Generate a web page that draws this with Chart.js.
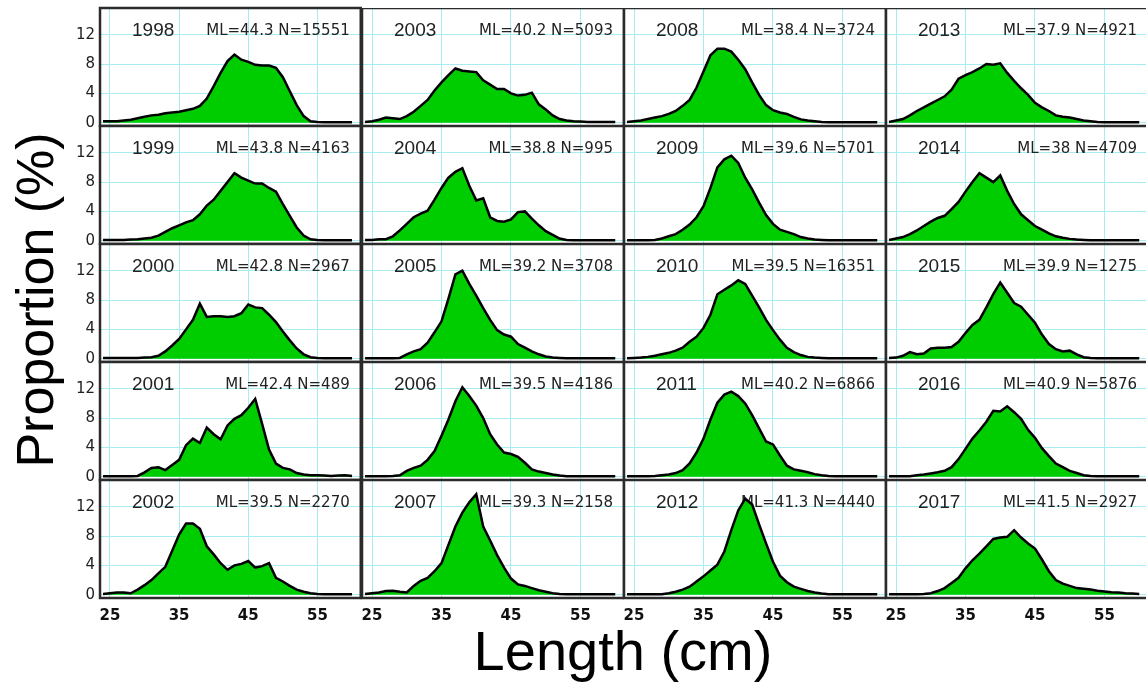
<!DOCTYPE html>
<html lang="en">
<head>
<meta charset="UTF-8">
<title>Length frequency by year</title>
<script src="https://cdn.jsdelivr.net/npm/chart.js@4.4.0/dist/chart.umd.min.js"></script>
<style>
    body {
        margin: 0;
        width: 1146px;
        height: 686px;
        overflow: hidden;
        position: relative;
        background: #fff;
        font-family: "Liberation Sans", Arial, sans-serif;
        color: #000;
    }
    canvas {
        position: absolute;
    }
    .axis-title {
        position: absolute;
        line-height: 1;
        white-space: nowrap;
    }
    #ytitle {
        left: 35px;
        top: 300px;
        font-size: 52px;
        transform: translate(-50%, -50%) rotate(-90deg);
    }
    #xtitle {
        left: 623px;
        top: 651px;
        font-size: 56px;
        transform: translate(-50%, -50%);
    }
</style>
</head>
<body>
<div id="ytitle" class="axis-title">Proportion (%)</div>
<div id="xtitle" class="axis-title">Length (cm)</div>

<script>
// length classes (cm)
const lengths = [24,25,26,27,28,29,30,31,32,33,34,35,36,37,38,39,40,41,42,43,44,45,46,47,48,49,50,51,52,53,54,55,56,57,58,59,60];

const years = [1998,1999,2000,2001,2002,2003,2004,2005,2006,2007,2008,2009,2010,2011,2012,2013,2014,2015,2016,2017];
const meanLengths = ['44.3','43.8','42.8','42.4','39.5','40.2','38.8','39.2','39.5','39.3','38.4','39.6','39.5','40.2','41.3','37.9','38','39.9','40.9','41.5'];
const sampleSizes = [15551,4163,2967,489,2270,5093,995,3708,4186,2158,3724,5701,16351,6866,4440,4921,4709,1275,5876,2927];

// proportion (%) per length class
const p1998 = [0.2,0.2,0.2,0.3,0.4,0.6,0.8,1.0,1.1,1.3,1.4,1.5,1.7,1.9,2.3,3.3,5.0,6.8,8.4,9.3,8.6,8.3,7.9,7.8,7.8,7.5,6.2,4.3,2.4,0.9,0.2,0.1,0.05,0.05,0.05,0.05,0.05];
const p1999 = [0.1,0.1,0.1,0.1,0.15,0.2,0.3,0.4,0.7,1.2,1.7,2.1,2.5,2.8,3.6,4.8,5.6,6.8,8.0,9.2,8.6,8.2,7.8,7.8,7.2,6.7,5.0,3.4,1.8,0.7,0.2,0.1,0.05,0.05,0.05,0.05,0.05];
const p2000 = [0.1,0.1,0.1,0.1,0.1,0.1,0.15,0.2,0.4,1.0,1.8,2.7,4.0,5.3,7.5,5.7,5.8,5.8,5.7,5.8,6.2,7.4,7.0,6.9,6.0,5.0,3.7,2.5,1.4,0.6,0.2,0.1,0.05,0.05,0.05,0.05,0.05];
const p2001 = [0.05,0.05,0.05,0.05,0.05,0.1,0.6,1.2,1.3,0.9,1.6,2.3,4.3,5.2,4.6,6.7,5.8,5.1,7.0,7.9,8.4,9.4,10.6,7.2,3.7,1.8,1.2,1.0,0.5,0.3,0.2,0.2,0.15,0.1,0.15,0.2,0.1];
const p2002 = [0.1,0.2,0.3,0.3,0.2,0.7,1.3,2.0,2.9,3.8,6.0,8.2,9.7,9.7,9.0,6.6,5.5,4.3,3.4,4.0,4.2,4.6,3.7,3.9,4.3,2.3,1.8,1.2,0.7,0.4,0.2,0.1,0.05,0.05,0.05,0.05,0.05];
const p2003 = [0.1,0.2,0.4,0.7,0.6,0.5,0.9,1.5,2.3,3.1,4.4,5.5,6.5,7.4,7.1,7.0,6.9,5.8,5.2,4.6,4.6,4.0,3.7,3.8,4.1,2.5,1.8,1.0,0.5,0.3,0.2,0.15,0.1,0.1,0.1,0.1,0.1];
const p2004 = [0.1,0.1,0.2,0.2,0.6,1.4,2.3,3.2,3.7,4.1,5.6,7.2,8.6,9.4,9.9,7.5,5.5,5.8,3.2,2.7,2.6,2.9,3.9,4.0,3.0,2.1,1.3,0.8,0.3,0.1,0.05,0.05,0.05,0.05,0.05,0.05,0.05];
const p2005 = [0.05,0.05,0.05,0.05,0.05,0.1,0.6,1.0,1.3,2.2,3.6,5.1,8.2,11.5,12.0,10.2,8.6,6.9,5.3,3.9,3.3,3.0,2.0,1.5,1.0,0.6,0.3,0.15,0.1,0.05,0.05,0.05,0.05,0.05,0.05,0.05,0.05];
const p2006 = [0.05,0.05,0.05,0.05,0.1,0.2,0.8,1.2,1.5,2.3,3.5,5.6,7.8,10.3,12.2,11.0,9.7,8.0,5.8,4.4,3.3,3.1,2.7,1.9,1.0,0.7,0.5,0.3,0.15,0.05,0.05,0.05,0.05,0.05,0.05,0.05,0.05];
const p2007 = [0.1,0.2,0.3,0.5,0.55,0.4,0.3,1.2,1.9,2.3,3.2,4.3,6.8,9.3,11.2,12.6,13.7,9.3,7.4,5.4,3.7,2.2,1.4,1.2,0.9,0.6,0.4,0.2,0.1,0.05,0.05,0.05,0.05,0.05,0.05,0.05,0.05];
const p2008 = [0.1,0.2,0.3,0.5,0.7,0.9,1.2,1.6,2.3,3.1,4.8,7.0,9.2,10.1,10.1,9.7,8.6,7.3,5.5,3.8,2.4,1.7,1.4,1.2,0.8,0.45,0.3,0.2,0.1,0.05,0.05,0.05,0.05,0.05,0.05,0.05,0.05];
const p2009 = [0.05,0.05,0.05,0.05,0.1,0.3,0.6,0.9,1.5,2.2,3.2,4.7,7.2,10.0,11.1,11.6,10.6,8.6,7.0,5.2,3.5,2.3,1.5,1.2,0.9,0.5,0.3,0.15,0.1,0.05,0.05,0.05,0.05,0.05,0.05,0.05,0.05];
const p2010 = [0.05,0.1,0.15,0.25,0.4,0.6,0.8,1.1,1.5,2.3,3.0,4.2,6.0,8.8,9.4,10.0,10.7,10.2,8.6,7.0,5.3,3.9,2.6,1.5,0.9,0.5,0.25,0.15,0.1,0.05,0.05,0.05,0.05,0.05,0.05,0.05,0.05];
const p2011 = [0.05,0.05,0.05,0.05,0.1,0.2,0.3,0.5,0.9,1.8,3.3,5.2,7.8,10.1,11.2,11.6,11.0,10.0,8.4,6.6,4.8,4.4,2.9,1.5,1.0,0.8,0.6,0.35,0.2,0.1,0.05,0.05,0.05,0.05,0.05,0.05,0.05];
const p2012 = [0.05,0.05,0.05,0.05,0.05,0.05,0.2,0.4,0.7,1.1,1.8,2.5,3.3,4.1,5.9,8.8,11.5,13.1,12.3,9.6,7.0,4.5,2.6,1.7,1.1,0.8,0.5,0.3,0.15,0.05,0.05,0.05,0.05,0.05,0.05,0.05,0.05];
const p2013 = [0.1,0.3,0.5,1.0,1.6,2.1,2.6,3.1,3.6,4.5,6.0,6.5,6.9,7.4,8.0,7.9,8.1,6.8,5.7,4.7,3.8,2.7,2.1,1.6,1.0,0.8,0.7,0.5,0.3,0.2,0.1,0.05,0.05,0.05,0.05,0.05,0.05];
const p2014 = [0.1,0.3,0.5,0.9,1.4,2.0,2.6,3.1,3.4,4.3,5.3,6.7,8.0,9.2,8.6,8.0,8.9,6.8,5.0,3.6,2.8,2.0,1.5,1.0,0.6,0.4,0.25,0.15,0.1,0.05,0.05,0.05,0.05,0.05,0.05,0.05,0.05];
const p2015 = [0.1,0.15,0.4,0.9,0.6,0.7,1.4,1.5,1.5,1.6,2.3,3.5,4.6,5.3,7.0,8.8,10.4,9.0,7.6,7.1,6.0,4.9,3.3,2.0,1.3,1.0,1.1,0.6,0.2,0.1,0.05,0.05,0.05,0.05,0.05,0.05,0.05];
const p2016 = [0.05,0.05,0.05,0.05,0.2,0.3,0.45,0.6,0.8,1.3,2.4,3.8,5.2,6.3,7.5,9.0,8.9,9.6,8.8,7.9,6.4,5.3,3.9,2.8,1.8,1.3,0.8,0.5,0.2,0.1,0.05,0.05,0.05,0.05,0.05,0.05,0.05];
const p2017 = [0.05,0.05,0.05,0.05,0.05,0.1,0.2,0.5,0.9,1.6,2.3,3.6,4.7,5.6,6.6,7.6,7.8,7.9,8.8,7.8,7.0,6.3,4.8,3.2,2.0,1.5,1.2,0.9,0.8,0.7,0.55,0.45,0.35,0.3,0.2,0.15,0.1];

const series = [p1998,p1999,p2000,p2001,p2002,p2003,p2004,p2005,p2006,p2007,
                p2008,p2009,p2010,p2011,p2012,p2013,p2014,p2015,p2016,p2017];

// axis ticks and labels
const xGridTicks = [25,30,35,40,45,50,55,60];
const xTickLabels = [25,35,45,55];
const yGridTicks = [0,2,4,6,8,10,12,14];
const yTickLabels = [0,4,8,12];

// layout of the 5 x 4 panel grid
const colLeft = [100, 362, 624, 886];
const rowTop = [8, 126, 244, 362, 480];
const panelW = 262, panelH = 118;
const marginL = 40, marginB = 30;
const gridColor = '#a6ecf0';

// white background + frame around each panel, year and stats text
function panelPlugin(year, stats) {
    return {
        id: 'panel',
        beforeDraw(chart) {
            const {ctx, chartArea: a} = chart;
            ctx.save();
            ctx.fillStyle = '#fff';
            ctx.fillRect(a.left, a.top, a.width, a.height);
            ctx.restore();
        },
        beforeDatasetsDraw(chart) {
            const {ctx, chartArea: a} = chart;
            ctx.save();
            ctx.fillStyle = '#222';
            ctx.textBaseline = 'alphabetic';
            ctx.textAlign = 'left';
            ctx.font = '19px "Liberation Sans", Arial, sans-serif';
            ctx.fillText(year, a.left + 32, a.top + 28);
            ctx.textAlign = 'right';
            ctx.font = '15px "DejaVu Sans", sans-serif';
            ctx.fillText(stats, a.right - 11, a.top + 27);
            ctx.restore();
        },
        afterDraw(chart) {
            const {ctx, chartArea: a} = chart;
            ctx.save();
            ctx.strokeStyle = '#2b2b2b';
            ctx.lineWidth = 2.5;
            ctx.strokeRect(a.left, a.top, a.width, a.height);
            ctx.restore();
        }
    };
}

years.forEach((year, i) => {
    const col = Math.floor(i / 5);
    const row = i % 5;

    const canvas = document.createElement('canvas');
    canvas.width = panelW + marginL;
    canvas.height = panelH + marginB;
    canvas.style.left = (colLeft[col] - marginL) + 'px';
    canvas.style.top = rowTop[row] + 'px';
    document.body.appendChild(canvas);

    const stats = 'ML=' + meanLengths[i] + ' N=' + sampleSizes[i];

    const chart = new Chart(canvas, {
        type: 'line',
        data: {
            datasets: [{
                data: lengths.map((x, k) => ({x: x, y: series[i][k]})),
                borderColor: '#000',
                borderWidth: 2.5,
                backgroundColor: '#00cd00',
                fill: 'origin',
                pointRadius: 0,
                tension: 0
            }]
        },
        options: {
            responsive: false,
            maintainAspectRatio: false,
            animation: false,
            events: [],
            layout: { padding: 0 },
            plugins: {
                legend: { display: false },
                tooltip: { enabled: false }
            },
            scales: {
                x: {
                    type: 'linear',
                    min: 23.56,
                    max: 61.26,
                    afterBuildTicks: s => { s.ticks = xGridTicks.map(v => ({value: v})); },
                    afterFit: s => { s.height = marginB; },
                    border: { display: false },
                    grid: { color: gridColor, lineWidth: 1, tickLength: 9, tickColor: 'rgba(0,0,0,0)' },
                    ticks: {
                        display: row === 4,
                        padding: 0,
                        autoSkip: false,
                        maxRotation: 0,
                        color: '#111',
                        font: { family: '"DejaVu Sans", sans-serif', size: 15, weight: 'bold' },
                        callback: v => xTickLabels.includes(v) ? String(v) : null
                    }
                },
                y: {
                    min: -0.45,
                    max: 15.65,
                    afterBuildTicks: s => { s.ticks = yGridTicks.map(v => ({value: v})); },
                    afterFit: s => { s.width = marginL; },
                    border: { display: false },
                    grid: { color: gridColor, lineWidth: 1, tickLength: 5, tickColor: 'rgba(0,0,0,0)' },
                    ticks: {
                        display: col === 0,
                        padding: 0,
                        autoSkip: false,
                        color: '#222',
                        font: { family: '"DejaVu Sans", sans-serif', size: 15 },
                        callback: v => yTickLabels.includes(v) ? String(v) : null
                    }
                }
            }
        },
        plugins: [panelPlugin(String(year), stats)]
    });

    // the tick labels can add padding round the plot area; grow the canvas
    // and shift it so every plot area lands on its panel cell
    const a = chart.chartArea;
    const padT = a.top, padL = a.left;
    const padR = canvas.width - a.right, padB = canvas.height - a.bottom;
    chart.resize(panelW + padL + padR, panelH + padT + padB);
    const b = chart.chartArea;
    canvas.style.left = (colLeft[col] - b.left) + 'px';
    canvas.style.top = (rowTop[row] - b.top) + 'px';
});
</script>
</body>
</html>
